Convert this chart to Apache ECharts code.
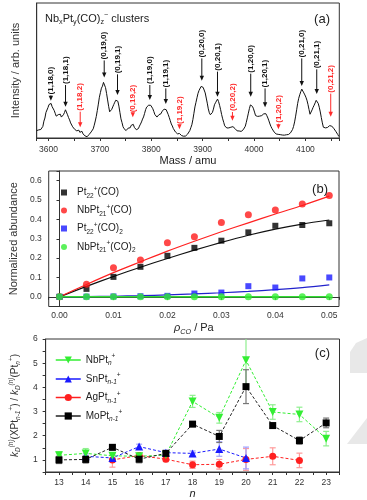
<!DOCTYPE html>
<html><head><meta charset="utf-8">
<script src="https://cdn.jsdelivr.net/npm/echarts@6/dist/echarts.min.js"></script>
<style>html,body{margin:0;padding:0;background:#fff}#c{width:367px;height:500px}</style>
</head><body><div id="c"></div>
<script>
// ---------- Panel (a): mass spectrum ----------
const specStart = 3577, specStep = 2; // uniform sampling of the spectrum (amu)
const specIntensity = [5.5,4.2,6.0,5.1,6.3,5.0,8.6,12.5,14.8,18.9,20.2,22.6,24.8,23.9,25.6,23.2,22.1,20.4,18.3,16.2,
15.4,17.3,16.5,17.6,15.5,16.8,17.2,18.8,20.9,19.7,17.2,15.1,13.4,11.2,10.0,8.3,7.6,6.4,7.2,5.3,
4.9,5.8,4.2,5.4,5.0,3.1,2.4,1.6,2.0,0.9,1.4,2.6,3.2,4.5,5.4,6.8,9.5,12.6,16.0,20.4,
25.1,30.2,33.6,36.9,38.4,41.2,40.1,37.3,33.0,28.2,23.5,19.4,18.6,21.2,23.0,24.8,26.5,28.0,29.1,27.2,
23.6,18.9,14.2,11.5,8.4,6.9,6.2,5.5,6.6,7.3,8.1,7.6,9.4,10.6,10.1,7.9,6.8,6.1,5.6,7.0,
8.8,10.3,11.9,14.0,15.6,18.2,21.0,22.9,23.6,24.3,25.1,24.2,23.4,21.7,19.6,17.4,16.3,15.5,16.4,17.3,
18.5,18.0,19.8,20.9,21.3,21.8,21.0,19.6,17.4,15.2,12.8,10.4,8.9,7.0,5.8,4.5,4.0,3.1,2.6,3.3,
2.0,1.8,2.4,1.3,1.0,1.5,2.2,3.0,4.1,5.5,7.6,9.8,13.6,18.3,23.0,26.4,29.8,33.1,35.2,36.6,
38.2,38.8,37.5,36.2,33.4,29.6,25.8,21.6,18.7,17.2,16.8,18.9,21.4,24.6,26.1,27.4,28.8,27.0,24.2,21.0,
17.3,14.2,11.6,9.0,8.0,7.4,6.8,7.5,6.9,8.0,9.1,8.4,7.6,7.0,6.1,5.3,4.6,5.2,4.3,4.9,
5.4,6.1,7.4,8.7,11.6,14.9,18.4,21.8,24.5,25.3,23.4,21.6,19.2,16.6,15.5,16.0,15.3,16.2,15.7,16.6,
17.4,17.9,18.6,18.0,16.5,14.8,12.7,10.4,8.5,7.0,5.6,4.5,3.6,3.0,2.4,2.7,1.9,2.5,1.6,2.2,
1.4,2.1,1.6,2.4,1.8,2.6,3.2,3.8,4.9,6.3,8.6,11.9,16.2,20.9,25.7,29.4,32.0,34.3,36.2,35.1,
33.4,31.9,30.2,28.0,24.9,21.2,17.6,18.9,20.8,22.7,24.3,26.0,27.9,28.4,25.6,22.8,19.3,15.1,11.2,8.0,
6.9,7.5,8.2,7.8,8.6,9.1,8.7,8.9,8.0,7.2,6.5,5.0,3.8,2.6,1.2];

const annotLabels = ['(1,18,0)','(1,18,1)','(1,18,2)','(0,19,0)','(0,19,1)','(0,19,2)','(1,19,0)','(1,19,1)','(1,19,2)',
  '(0,20,0)','(0,20,1)','(0,20,2)','(1,20,0)','(1,20,1)','(1,20,2)','(0,21,0)','(0,21,1)','(0,21,2)'];
const annotMass = [3604.6,3633.1,3661.7,3708.4,3734.3,3764.1,3797.2,3828.3,3854.9,3898.4,3928.9,3958.0,3993.6,4021.5,4047.5,4092.9,4122.1,4149.3];
const annotTextBase = [32.3,40.0,20.2,58.2,47.9,19.0,40.0,37.5,10.4,59.7,49.9,20.0,48.4,37.5,11.3,59.7,51.6,33.6];
const annotTip = [27.6,23.2,7.9,44.9,31.8,15.3,28.1,25.2,6.4,42.4,30.6,12.8,30.6,22.7,6.4,38.5,32.6,15.8];

// ---------- Panel (b): normalized abundance ----------
const pressure = [0,0.005,0.01,0.015,0.02,0.025,0.03,0.035,0.04,0.045,0.05];
const pt22CO   = [0,0.041,0.103,0.155,0.212,0.253,0.29,0.333,0.367,0.371,0.38];
const nbPtCO   = [0,0.065,0.15,0.19,0.279,0.31,0.384,0.424,0.448,0.479,0.524];
const pt22CO2  = [0,0.001,0.002,0.003,0.005,0.017,0.022,0.055,0.048,0.095,0.1];
const nbPtCO2  = [0,0,0,0,0,0,0,0,0,0,0];
const fitPt22CO  = [0,0.054,0.105,0.153,0.198,0.241,0.281,0.318,0.35,0.376,0.397];
const fitNbPtCO  = [0,0.064,0.125,0.181,0.236,0.287,0.336,0.382,0.428,0.472,0.52];
const fitPt22CO2 = [0,0.001,0.003,0.006,0.01,0.015,0.021,0.028,0.037,0.048,0.062];
const fitNbPtCO2 = [0,0,0,0,0,0,0,0,0,0,0];

// ---------- Panel (c): relative rate constants ----------
const nVals = [13,14,15,16,17,18,19,20,21,22,23];
const nbPt  = [1.19,1.27,1.17,1.15,1.2,3.42,2.74,5.12,2.98,2.88,1.88];
const nbErr = [0.15,0.2,0.1,0.1,0.1,0.25,0.22,1.0,0.3,0.3,0.3];
const snPt  = [null,1.15,1.08,1.55,1.3,1.27,1.45,1.08,null,null,null];
const snErr = [null,0.1,0.15,0.1,0.1,0.1,0.3,0.45,null,null,null];
const agPt  = [null,null,1.0,1.18,1.03,0.8,0.82,1.02,1.15,0.98,null];
const agErr = [null,null,0.3,0.1,0.1,0.15,0.2,0.45,0.35,0.3,null];
const moPt  = [1.0,1.02,1.52,1.03,1.27,2.48,1.97,4.03,2.42,1.8,2.53];
const moErr = [0.15,0.15,0.1,0.15,0.1,0.1,0.25,0.7,0.1,0.15,0.2];

// ---------- styling ----------
const FF = 'Liberation Sans';
const AX = '#333';
function richSet(size, color){
  const s = Math.round(size*0.65*10)/10;
  return {
    sub:{fontFamily:FF,fontSize:s,color:color,verticalAlign:'bottom',lineHeight:8},
    sup:{fontFamily:FF,fontSize:s,color:color,verticalAlign:'top',lineHeight:8},
    i:{fontFamily:FF,fontSize:size,color:color,fontStyle:'italic',lineHeight:14},
    isup:{fontFamily:FF,fontSize:s,color:color,fontStyle:'italic',verticalAlign:'top',lineHeight:8},
    isub:{fontFamily:FF,fontSize:s,color:color,fontStyle:'italic',verticalAlign:'bottom',lineHeight:8}
  };
}
const tickLabel = {color:AX,fontFamily:FF,fontSize:8.5};
const axLine = {show:true,lineStyle:{color:AX,width:1}};

const chart = echarts.init(document.getElementById('c'));

function errSeries(vals, errs, color, name){
  const d = [];
  nVals.forEach((n,i)=>{ if(vals[i]!=null) d.push([n, vals[i]-errs[i], vals[i]+errs[i]]); });
  return {type:'custom', name:name, xAxisIndex:2, yAxisIndex:2, clip:true, silent:true, z:1,
    data:d,
    renderItem(params, api){
      const lo = api.coord([api.value(0), api.value(1)]);
      const hi = api.coord([api.value(0), api.value(2)]);
      const w = 3;
      const st = {stroke:color, lineWidth:1.2};
      return {type:'group', children:[
        {type:'line', shape:{x1:lo[0],y1:lo[1],x2:hi[0],y2:hi[1]}, style:st},
        {type:'line', shape:{x1:lo[0]-w,y1:lo[1],x2:lo[0]+w,y2:lo[1]}, style:st},
        {type:'line', shape:{x1:hi[0]-w,y1:hi[1],x2:hi[0]+w,y2:hi[1]}, style:st}
      ]};
    }};
}
function pairs(xs, ys){ const d=[]; xs.forEach((x,i)=>{ if(ys[i]!=null) d.push([x, ys[i]]); }); return d; }

const legendNames = {
  'Pt22CO':'Pt{sub|22}{sup|+}(CO)',
  'NbPtCO':'NbPt{sub|21}{sup|+}(CO)',
  'Pt22CO2':'Pt{sub|22}{sup|+}(CO){sub|2}',
  'NbPtCO2':'NbPt{sub|21}{sup|+}(CO){sub|2}',
  'NbPt':'NbPt{isub|n}{sup|+}',
  'SnPt':'SnPt{isub|n-1}{sup|+}',
  'AgPt':'AgPt{isub|n-1}{sup|+}',
  'MoPt':'MoPt{isub|n-1}{sup|+}'
};
function legendB(name, top){
  return {data:[name], left:56, top:top, orient:'vertical', itemWidth:6, itemHeight:6, selectedMode:false,
    formatter: n=>legendNames[n],
    textStyle:{fontFamily:FF,fontSize:10,color:'#222',lineHeight:14,padding:[0,0,0,5],rich:richSet(10,'#222')}};
}
function legendC(name, top){
  return {data:[name], left:50, top:top, orient:'vertical', itemWidth:25, itemHeight:9, selectedMode:false,
    lineStyle:{type:'solid', width:1.5},
    formatter: n=>legendNames[n],
    textStyle:{fontFamily:FF,fontSize:10,color:'#222',lineHeight:14,rich:richSet(10,'#222')}};
}
function is01(v){ return Math.abs(v*100 - Math.round(v*100)) < 1e-6; }
function is1(v){ return Math.abs(v*10 - Math.round(v*10)) < 1e-6; }
function is100(v){ return Math.abs(v/100 - Math.round(v/100)) < 1e-6; }

const option = {
  animation:false,
  title:[
    {text:'Nb{sub|x}Pt{sub|y}(CO){sub|z}{sup|\u2212} clusters', left:40, top:7,
      textStyle:{fontFamily:FF,fontSize:11,fontWeight:'normal',color:'#222',lineHeight:14,rich:richSet(11,'#222')}},
    {text:'(a)', right:32, top:7, textStyle:{fontFamily:FF,fontSize:13,fontWeight:'normal',color:'#222',lineHeight:15}},
    {text:'(b)', right:34, top:177, textStyle:{fontFamily:FF,fontSize:13,fontWeight:'normal',color:'#222',lineHeight:15}},
    {text:'(c)', right:32, top:341, textStyle:{fontFamily:FF,fontSize:13,fontWeight:'normal',color:'#222',lineHeight:15}}
  ],
  grid:[
    {left:36.7, top:3, width:302.6, height:135, show:true, borderColor:AX, borderWidth:1},
    {left:37, top:171, width:302, height:135.5, show:true, borderColor:AX, borderWidth:1},
    {left:37.5, top:339, width:302, height:135, show:true, borderColor:AX, borderWidth:1}
  ],
  xAxis:[
    {gridIndex:0, type:'value', min:3577, max:4166, splitNumber:6,
      axisLine:axLine, axisTick:{length:3, lineStyle:{color:AX}}, splitLine:{show:false},
      minorTick:{show:true, splitNumber:2, length:3, lineStyle:{color:AX}}, minorSplitLine:{show:false},
      axisLabel:Object.assign({margin:7, showMinLabel:false, showMaxLabel:false, formatter:v=> is100(v) ? String(Math.round(v)) : ''}, tickLabel),
      name:'Mass / amu', nameLocation:'middle', nameGap:17,
      nameTextStyle:{fontFamily:FF,fontSize:11,color:'#222'}},
    {gridIndex:1, type:'value', min:-0.002, max:0.0518, splitNumber:5,
      axisLine:axLine, axisTick:{length:3, lineStyle:{color:AX}}, splitLine:{show:false},
      axisLabel:Object.assign({margin:5, formatter:v=> is01(v) ? v.toFixed(2) : ''}, tickLabel),
      name:'{i|\u03C1}{isub|CO} / Pa', nameLocation:'middle', nameGap:13,
      nameTextStyle:{fontFamily:FF,fontSize:11,color:'#222',lineHeight:14,rich:richSet(11,'#222')}},
    {gridIndex:2, type:'value', min:12.5, max:23.5, interval:0.5,
      axisLine:axLine, axisTick:{length:3, lineStyle:{color:AX}}, splitLine:{show:false},
      axisLabel:Object.assign({margin:6, formatter:v=> Number.isInteger(v) ? String(v) : ''}, tickLabel),
      name:'n', nameLocation:'middle', nameGap:16,
      nameTextStyle:{fontFamily:FF,fontSize:11,color:'#222',fontStyle:'italic'}}
  ],
  yAxis:[
    {gridIndex:0, type:'value', min:0, max:100,
      axisLine:axLine, axisTick:{show:false}, axisLabel:{show:false}, splitLine:{show:false},
      name:'Intensity / arb. units', nameLocation:'middle', nameGap:15, nameRotate:90,
      nameTextStyle:{fontFamily:FF,fontSize:11,color:'#333'}},
    {gridIndex:1, type:'value', min:-0.05, max:0.65, splitNumber:7,
      axisLine:axLine, axisTick:{length:3, lineStyle:{color:AX}}, splitLine:{show:false},
      axisLabel:Object.assign({margin:7, formatter:v=> is1(v) ? v.toFixed(1) : ''}, tickLabel),
      name:'Normalized abundance', nameLocation:'middle', nameGap:23, nameRotate:90,
      nameTextStyle:{fontFamily:FF,fontSize:11,color:'#333'}},
    {gridIndex:2, type:'value', min:0.5, max:6, interval:0.5,
      axisLine:axLine, axisTick:{length:3, lineStyle:{color:AX}}, splitLine:{show:false},
      axisLabel:Object.assign({margin:8, formatter:v=> Number.isInteger(v) ? String(v) : ''}, tickLabel),
      name:'{i|k}{isub|D}{isup|(n)}(XPt{isub|n-1}{sup|+}) / {i|k}{isub|D}{isup|(n)}(Pt{isub|n}{sup|+})',
      nameLocation:'middle', nameGap:18, nameRotate:90,
      nameTextStyle:{fontFamily:FF,fontSize:10,color:'#333',lineHeight:14,rich:richSet(10,'#333')}}
  ],
  legend:[
    legendB('Pt22CO', 180.5), legendB('NbPtCO', 198.5), legendB('Pt22CO2', 216.5), legendB('NbPtCO2', 235),
    legendC('NbPt', 348), legendC('SnPt', 367), legendC('AgPt', 385.5), legendC('MoPt', 404)
  ],
  series:[
    // (a)
    {type:'line', xAxisIndex:0, yAxisIndex:0, showSymbol:false, silent:true,
      data: specIntensity.map((v,i)=>[specStart + i*specStep, v]),
      lineStyle:{color:'#111', width:1}},
    {type:'custom', xAxisIndex:0, yAxisIndex:0, silent:true, z:5,
      data: annotMass.map((m,i)=>[m, annotTextBase[i], annotTip[i], i]),
      renderItem(params, api){
        const i = api.value(3);
        const p0 = api.coord([api.value(0), api.value(1)]);
        const p1 = api.coord([api.value(0), api.value(2)]);
        const col = annotLabels[i].endsWith('2)') ? '#ff2a2a' : '#111';
        return {type:'group', children:[
          {type:'text', x:p0[0], y:p0[1], rotation:Math.PI/2,
            style:{text:annotLabels[i], fill:col, font:'bold 8px "Liberation Sans"', align:'left', verticalAlign:'middle'}},
          {type:'line', shape:{x1:p0[0], y1:p0[1]+1, x2:p1[0], y2:p1[1]-4}, style:{stroke:col, lineWidth:1}},
          {type:'polygon', shape:{points:[[p1[0]-2.2,p1[1]-5],[p1[0]+2.2,p1[1]-5],[p1[0],p1[1]]]}, style:{fill:col}}
        ]};
      }},
    // (b) fits
    {type:'line', name:'fitNbPtCO2', xAxisIndex:1, yAxisIndex:1, data:pairs(pressure, fitNbPtCO2), showSymbol:false, smooth:0.3, lineStyle:{color:'#33dd33', width:1.5}, z:3},
    {type:'line', name:'fitPt22CO2', xAxisIndex:1, yAxisIndex:1, data:pairs(pressure, fitPt22CO2), showSymbol:false, smooth:0.3, lineStyle:{color:'#2222cc', width:1.2}, z:2},
    {type:'line', name:'fitPt22CO', xAxisIndex:1, yAxisIndex:1, data:pairs(pressure, fitPt22CO), showSymbol:false, smooth:0.3, lineStyle:{color:'#111', width:1.2}, z:2},
    {type:'line', name:'fitNbPtCO', xAxisIndex:1, yAxisIndex:1, data:pairs(pressure, fitNbPtCO), showSymbol:false, smooth:0.3, lineStyle:{color:'#ff2020', width:1.2}, z:2},
    // (b) points
    {type:'scatter', name:'Pt22CO', xAxisIndex:1, yAxisIndex:1, data:pairs(pressure, pt22CO), symbol:'rect', symbolSize:6, itemStyle:{color:'#000'}, z:4},
    {type:'scatter', name:'NbPtCO', xAxisIndex:1, yAxisIndex:1, data:pairs(pressure, nbPtCO), symbol:'circle', symbolSize:7, itemStyle:{color:'#ff1a1a'}, z:4},
    {type:'scatter', name:'Pt22CO2', xAxisIndex:1, yAxisIndex:1, data:pairs(pressure, pt22CO2), symbol:'rect', symbolSize:6, itemStyle:{color:'#1a1aff'}, z:4},
    {type:'scatter', name:'NbPtCO2', xAxisIndex:1, yAxisIndex:1, data:pairs(pressure, nbPtCO2), symbol:'circle', symbolSize:7, itemStyle:{color:'#33ee33'}, z:5},
    // (c) error bars
    errSeries(agPt, agErr, '#ff9a9a', 'eAg'),
    errSeries(snPt, snErr, '#a0a0ff', 'eSn'),
    errSeries(nbPt, nbErr, '#8fef8f', 'eNb'),
    errSeries(moPt, moErr, '#777777', 'eMo'),
    // (c) lines
    {type:'line', name:'AgPt', xAxisIndex:2, yAxisIndex:2, data:pairs(nVals, agPt), symbol:'circle', symbolSize:7,
      itemStyle:{color:'#ff2020'}, lineStyle:{color:'#ff2020', width:1, type:[3,2]}, z:3},
    {type:'line', name:'SnPt', xAxisIndex:2, yAxisIndex:2, data:pairs(nVals, snPt), symbol:'triangle', symbolSize:8,
      itemStyle:{color:'#1a1aff'}, lineStyle:{color:'#1a1aff', width:1, type:[3,2]}, z:3},
    {type:'line', name:'NbPt', xAxisIndex:2, yAxisIndex:2, data:pairs(nVals, nbPt), symbol:'triangle', symbolRotate:180, symbolSize:8,
      itemStyle:{color:'#33ee33'}, lineStyle:{color:'#33ee33', width:1, type:[3,2]}, z:3},
    {type:'line', name:'MoPt', xAxisIndex:2, yAxisIndex:2, data:pairs(nVals, moPt), symbol:'rect', symbolSize:7,
      itemStyle:{color:'#000'}, lineStyle:{color:'#222', width:1, type:[3,2]}, z:4}
  ],
  graphic:[
    {type:'polygon', silent:true, shape:{points:[[350,373],[350,352],[356,343],[367,338],[367,373]]}, style:{fill:'#e8e8e8'}},
    {type:'polygon', silent:true, shape:{points:[[347,444],[367,418],[367,444]]}, style:{fill:'#e8e8e8'}}
  ]
};
chart.setOption(option);
</script></body></html>
